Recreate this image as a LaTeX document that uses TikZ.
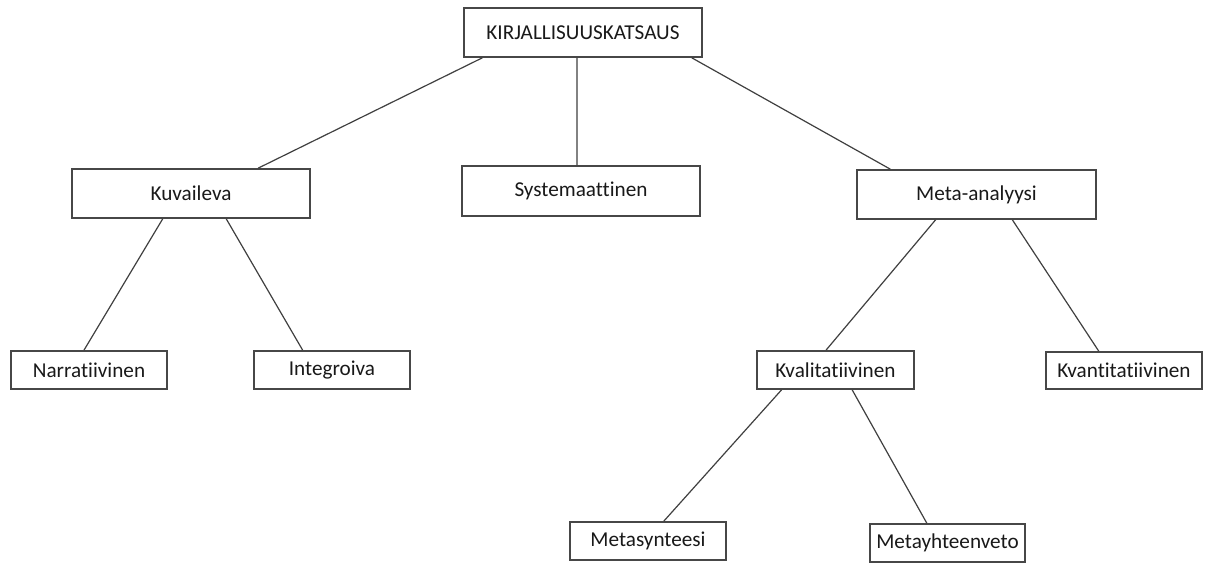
\documentclass[tikz,border=0pt]{standalone}
\usepackage{fontspec}
\setmainfont[Ligatures={NoCommon}]{Carlito}
\usetikzlibrary{calc}
\begin{document}
\begin{tikzpicture}[x=1pt,y=-1pt,
  box/.style={draw=black!72,line width=1.6pt,fill=white,inner sep=0pt,font=\fontsize{21.2}{25}\selectfont,text=black!90},
  big/.style={box,minimum width=238pt,minimum height=49pt},
  small/.style={box,minimum width=156pt,minimum height=38pt},
  link/.style={draw=black!75,line width=1.2pt}]
\useasboundingbox (0,0) rectangle (1211,563);
\fill[white] (0,0) rectangle (1211,563);
% nodes
\node[big] (K) at (583,32.5) {KIRJALLISUUSKATSAUS};
\node[big] (Ku) at (191,193.5) {Kuvaileva};
\node[big,minimum height=50pt] (S) at (581,191) {Systemaattinen};
\node[big,minimum width=239pt] (M) at (976.5,194.5) {Meta-analyysi};
\node[small] (N) at (89,370) {Narratiivinen};
\node[small] (I) at (332,370) {Integroiva};
\node[small,minimum width=157pt] (Kl) at (835.5,370) {Kvalitatiivinen};
\node[small,minimum height=37pt] (Kn) at (1124,370.5) {\raisebox{-2pt}{Kvantitatiivinen}};
\node[small] (Ms) at (648,541) {Metasynteesi};
\node[small,minimum width=155pt] (My) at (947.5,543) {Metayhteenveto};
% connectors
\draw[link] ($(K.south west)!0.08!(K.south east)$) -- ($(Ku.north west)!0.78!(Ku.north east)$);
\draw[link] ($(K.south west)!0.475!(K.south east)$) -- ($(S.north west)!0.483!(S.north east)$);
\draw[link] ($(K.south west)!0.954!(K.south east)$) -- ($(M.north west)!0.142!(M.north east)$);
\draw[link] ($(Ku.south west)!0.382!(Ku.south east)$) -- ($(N.north west)!0.468!(N.north east)$);
\draw[link] ($(Ku.south west)!0.647!(Ku.south east)$) -- ($(I.north west)!0.314!(I.north east)$);
\draw[link] ($(M.south west)!0.33!(M.south east)$) -- ($(Kl.north west)!0.44!(Kl.north east)$);
\draw[link] ($(M.south west)!0.649!(M.south east)$) -- ($(Kn.north west)!0.34!(Kn.north east)$);
\draw[link] ($(Kl.south west)!0.16!(Kl.south east)$) -- ($(Ms.north west)!0.60!(Ms.north east)$);
\draw[link] ($(Kl.south west)!0.605!(Kl.south east)$) -- ($(My.north west)!0.368!(My.north east)$);
\end{tikzpicture}
\end{document}
